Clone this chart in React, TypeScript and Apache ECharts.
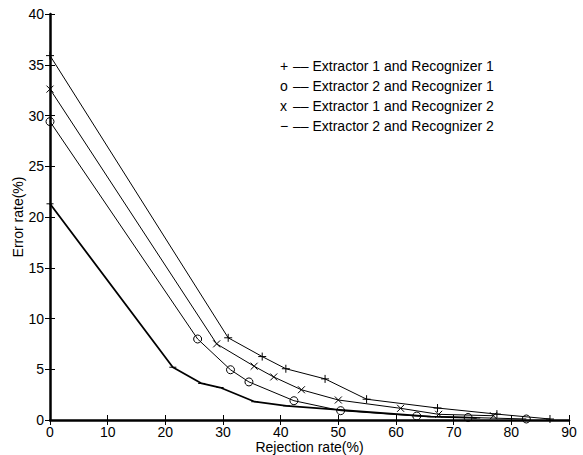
import React, { useEffect, useRef } from "react";
import * as echarts from "echarts";

const xMin = 0;
const xMax = 90;
const xStep = 10;
const yMin = 0;
const yMax = 40;
const yStep = 5;

const xName = "Rejection rate(%)";
const yName = "Error rate(%)";

const s1X = [0, 30.9, 36.8, 40.9, 47.7, 54.9, 67.2, 77.5, 86.7];
const s1Y = [35.9, 8.1, 6.25, 5.05, 4.05, 2.05, 1.18, 0.58, 0.1];
const s2X = [0, 25.6, 31.3, 34.5, 42.3, 50.4, 63.6, 72.5, 82.6];
const s2Y = [29.4, 7.98, 4.95, 3.75, 1.9, 0.92, 0.39, 0.25, 0.1];
const s3X = [0, 28.9, 35.4, 38.8, 43.6, 50.0, 60.8, 67.4, 76.9];
const s3Y = [32.6, 7.5, 5.3, 4.24, 2.98, 1.97, 1.15, 0.56, 0.42];
const s4X = [0, 21.3, 26.3, 29.5, 35.5, 41.0, 66.0, 74.0];
const s4Y = [21.3, 5.2, 3.6, 3.2, 1.8, 1.4, 0.33, 0.2];

const legendMarks = ["+", "o", "x", "−"];
const legendLabels = [
  "Extractor 1 and Recognizer 1",
  "Extractor 2 and Recognizer 1",
  "Extractor 1 and Recognizer 2",
  "Extractor 2 and Recognizer 2",
];

const FONT = "'Liberation Sans', Arial, Helvetica, sans-serif";

function zip(xs: number[], ys: number[]) {
  return xs.map((x, i) => [x, ys[i]]);
}

export default function App() {
  const ref = useRef<HTMLDivElement>(null);
  useEffect(() => {
    if (!ref.current) return;
    const chart = echarts.init(ref.current, undefined, { renderer: "svg" });
    const markerStyle = {
      color: "transparent",
      borderColor: "#000",
      borderWidth: 1,
    };
    const baseSeries = (data: number[][], symbol: string, size: any, lw = 1) => ({
      type: "line",
      data,
      symbol,
      symbolSize: size,
      showSymbol: true,
      lineStyle: { color: "#000", width: lw },
      itemStyle: markerStyle,
      emphasis: { disabled: true },
      clip: false,
      xAxisIndex: 0,
      yAxisIndex: 0,
    });
    const axisCommon = {
      type: "value",
      splitLine: { show: false },
      axisTick: { show: true, inside: true, length: 5, lineStyle: { color: "#000", width: 1 } },
    };
    const legendGraphics: any[] = [];
    legendLabels.forEach((t, i) => {
      const y = 66 + i * 20;
      legendGraphics.push({
        type: "text",
        x: 280,
        y,
        style: {
          text: legendMarks[i],
          fill: "#000",
          fontSize: 14,
          fontFamily: FONT,
          align: "left",
          verticalAlign: "middle",
        },
      });
      legendGraphics.push({
        type: "text",
        x: 293,
        y,
        style: {
          text: "–– " + t,
          fill: "#000",
          fontSize: 14,
          fontFamily: FONT,
          align: "left",
          verticalAlign: "middle",
        },
      });
    });
    chart.setOption({
      animation: false,
      backgroundColor: "#fff",
      grid: {
        left: 50,
        right: 14,
        top: 14,
        bottom: 35,
        containLabel: false,
        outerBoundsMode: "none",
      },
      xAxis: [
        {
          ...axisCommon,
          min: xMin,
          max: xMax,
          interval: xStep,
          position: "bottom",
          axisLine: { show: true, lineStyle: { color: "#000", width: 2.5 } },
          axisLabel: { color: "#000", fontSize: 14, fontFamily: FONT, margin: 5 },
          name: xName,
          nameLocation: "middle",
          nameGap: 20,
          nameMoveOverlap: false,
          nameTextStyle: { color: "#000", fontSize: 14, fontFamily: FONT },
        },
        {
          ...axisCommon,
          min: xMin,
          max: xMax,
          interval: xStep,
          position: "top",
          axisLine: { show: true, lineStyle: { color: "#000", width: 1 } },
          axisLabel: { show: false },
        },
      ],
      yAxis: [
        {
          ...axisCommon,
          min: yMin,
          max: yMax,
          interval: yStep,
          position: "left",
          axisLine: { show: true, lineStyle: { color: "#000", width: 2.5 } },
          axisLabel: { color: "#000", fontSize: 14, fontFamily: FONT, margin: 6 },
          name: yName,
          nameLocation: "middle",
          nameGap: 25,
          nameMoveOverlap: false,
          nameTextStyle: { color: "#000", fontSize: 14, fontFamily: FONT },
        },
        {
          ...axisCommon,
          min: yMin,
          max: yMax,
          interval: yStep,
          position: "right",
          axisLine: { show: true, lineStyle: { color: "#000", width: 1 } },
          axisLabel: { show: false },
        },
      ],
      series: [
        baseSeries(zip(s1X, s1Y), "path://M0,5H10M5,0V10", 8),
        baseSeries(zip(s2X, s2Y), "circle", 8),
        baseSeries(zip(s3X, s3Y), "path://M0,0L10,10M10,0L0,10", 7),
        {
          ...baseSeries(zip(s4X, s4Y), "rect", [7, 1], 1.8),
          itemStyle: { color: "#000", borderWidth: 0 },
        },
      ],
      graphic: legendGraphics,
    });
    return () => chart.dispose();
  }, []);
  return (
    <div
      ref={ref}
      style={{ position: "fixed", left: 0, top: 0, width: 583, height: 455 }}
    />
  );
}
